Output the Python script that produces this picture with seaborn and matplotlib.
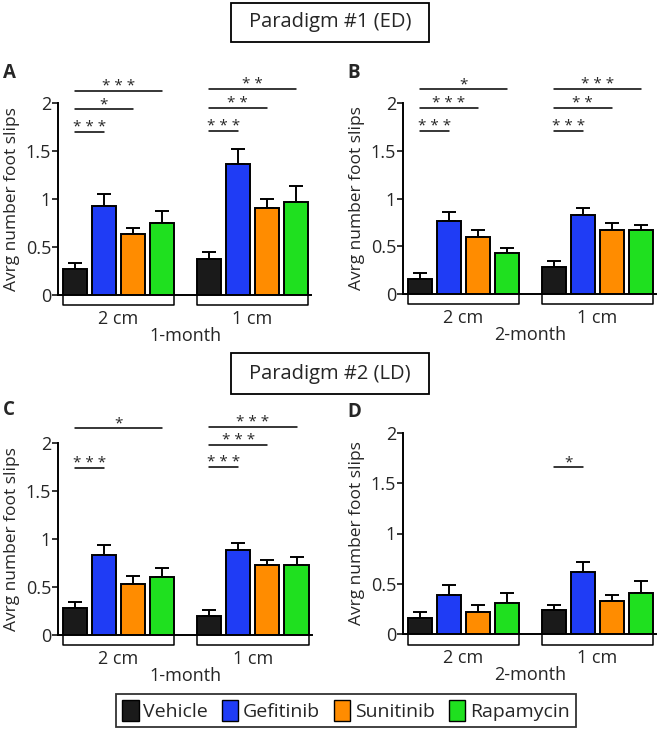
import numpy as np
import pandas as pd
import matplotlib
matplotlib.use("Agg")
import matplotlib.pyplot as plt
from matplotlib.patches import Patch, Rectangle
import seaborn as sns

# ---------------- data ----------------
groups = ["2 cm", "1 cm"]
treatments = ["Vehicle", "Gefitinib", "Sunitinib", "Rapamycin"]
colors = ["#1a1a1a", "#1f3cf5", "#ff8c00", "#1fe01f"]

A_mean_2cm = [0.27, 0.93, 0.635, 0.755]
A_sem_2cm = [0.06, 0.125, 0.065, 0.115]
A_mean_1cm = [0.38, 1.36, 0.905, 0.965]
A_sem_1cm = [0.07, 0.16, 0.10, 0.175]

B_mean_2cm = [0.157, 0.768, 0.60, 0.426]
B_sem_2cm = [0.063, 0.092, 0.067, 0.059]
B_mean_1cm = [0.28, 0.83, 0.67, 0.67]
B_sem_1cm = [0.065, 0.074, 0.07, 0.056]

C_mean_2cm = [0.28, 0.83, 0.53, 0.607]
C_sem_2cm = [0.067, 0.11, 0.083, 0.093]
C_mean_1cm = [0.198, 0.89, 0.724, 0.724]
C_sem_1cm = [0.062, 0.073, 0.056, 0.086]

D_mean_2cm = [0.156, 0.39, 0.22, 0.31]
D_sem_2cm = [0.064, 0.10, 0.065, 0.10]
D_mean_1cm = [0.235, 0.617, 0.33, 0.41]
D_sem_1cm = [0.05, 0.103, 0.06, 0.12]

# significance: (group index, compared treatment index, line height, stars)
A_sig = [(0, 1, 1.70, "* * *"), (0, 2, 1.94, "*"), (0, 3, 2.13, "* * *"),
         (1, 1, 1.71, "* * *"), (1, 2, 1.95, "* *"), (1, 3, 2.15, "* *")]
B_sig = [(0, 1, 1.71, "* * *"), (0, 2, 1.95, "* * *"), (0, 3, 2.15, "*"),
         (1, 1, 1.71, "* * *"), (1, 2, 1.95, "* *"), (1, 3, 2.15, "* * *")]
C_sig = [(0, 1, 1.74, "* * *"), (0, 3, 2.16, "*"),
         (1, 1, 1.75, "* * *"), (1, 2, 1.98, "* * *"), (1, 3, 2.17, "* * *")]
D_sig = [(1, 1, 1.66, "*")]

months = {"A": "1-month", "B": "2-month", "C": "1-month", "D": "2-month"}
yticks = [0, 0.5, 1, 1.5, 2]
ytick_labels = ["0", "0.5", "1", "1.5", "2"]

# ---------------- style ----------------
sns.set_style("ticks")
plt.rcParams["font.family"] = ["Open Sans", "DejaVu Sans"]

W, H = 658, 735
fig = plt.figure(figsize=(W / 100, H / 100), dpi=100)


def axes_px(left, right, top, bottom):
    return fig.add_axes([left / W, 1 - bottom / H, (right - left) / W, (bottom - top) / H])


def build_df(m2, s2, m1, s1):
    rows = []
    for g, means, sems in ((groups[0], m2, s2), (groups[1], m1, s1)):
        for t, m, s in zip(treatments, means, sems):
            rows.append({"distance": g, "treatment": t, "slips": m, "sem": s})
    return pd.DataFrame(rows)


def draw_panel(ax, letter, letter_xy, df, sig):
    sns.barplot(data=df, x="distance", y="slips", hue="treatment",
                order=groups, hue_order=treatments, palette=colors,
                width=0.866, gap=0.17, edgecolor="black", linewidth=1.4,
                errorbar=None, legend=False, ax=ax, saturation=1, zorder=3)
    bar_conts = list(ax.containers)
    centers = {}
    extents = {}
    for ti, cont in enumerate(bar_conts):
        for gi, bar in enumerate(cont.patches):
            x = bar.get_x() + bar.get_width() / 2
            h = bar.get_height()
            s = df[(df.distance == groups[gi]) & (df.treatment == treatments[ti])]["sem"].iloc[0]
            ax.errorbar(x, h, yerr=[[0], [s]], fmt="none", ecolor="black",
                        elinewidth=1.4, capsize=4.7, capthick=1.4, zorder=2)
            centers[(gi, ti)] = x
            lo, hi = extents.get(gi, (np.inf, -np.inf))
            extents[gi] = (min(lo, bar.get_x()), max(hi, bar.get_x() + bar.get_width()))

    ax.set_xlim(-0.45, 1.44)
    ax.set_ylim(0, 2)
    ax.set_yticks(yticks)
    ax.set_yticklabels(ytick_labels, fontsize=13)
    ax.set_xticks([0, 1])
    ax.set_xticklabels(groups, fontsize=13)
    ax.tick_params(axis="x", length=0, pad=11)
    ax.tick_params(axis="y", length=4, width=1.3, pad=1, direction="out")
    for sp in ("top", "right"):
        ax.spines[sp].set_visible(False)
    for sp in ("left", "bottom"):
        ax.spines[sp].set_linewidth(1.4)
        ax.spines[sp].set_color("black")
    ax.set_xlabel("")
    ax.set_ylabel("Avrg number foot slips", fontsize=12.5)
    pos = ax.get_position()
    lab_x = (-46 / W) / pos.width
    ax.yaxis.set_label_coords(lab_x, 0.5)
    ax.yaxis.label.set_va("center")

    # brackets under each group
    for gi, (lo, hi) in extents.items():
        ax.plot([lo, lo, hi, hi], [0, -0.105, -0.105, 0], color="black",
                lw=1.1, clip_on=False, zorder=1)

    # month label
    ax.annotate(months[letter], xy=(0.5, 0), xycoords=("data", "axes fraction"),
                xytext=(0, -41), textcoords="offset pixels", ha="center", va="center",
                fontsize=13)

    # significance lines
    for gi, ti, y, stars in sig:
        x0 = centers[(gi, 0)]
        x1 = centers[(gi, ti)]
        ax.plot([x0, x1], [y, y], color="black", lw=1.1, clip_on=False)
        ax.annotate(stars, xy=((x0 + x1) / 2, y), xycoords="data",
                    xytext=(0, 4), textcoords="offset pixels", ha="center",
                    va="center", fontsize=11, annotation_clip=False)

    # panel letter
    fig.text(letter_xy[0] / W, 1 - letter_xy[1] / H, letter, fontsize=13.5,
             fontweight="bold", ha="left", va="center")


axA = axes_px(58, 311, 103, 295)
axB = axes_px(403, 656, 103, 294)
axC = axes_px(58, 312, 443, 635)
axD = axes_px(403, 656, 433, 634)

draw_panel(axA, "A", (3, 73), build_df(A_mean_2cm, A_sem_2cm, A_mean_1cm, A_sem_1cm), A_sig)
draw_panel(axB, "B", (347, 73), build_df(B_mean_2cm, B_sem_2cm, B_mean_1cm, B_sem_1cm), B_sig)
draw_panel(axC, "C", (3, 410), build_df(C_mean_2cm, C_sem_2cm, C_mean_1cm, C_sem_1cm), C_sig)
draw_panel(axD, "D", (347, 412), build_df(D_mean_2cm, D_sem_2cm, D_mean_1cm, D_sem_1cm), D_sig)

# paradigm title boxes
for (x0, y0, x1, y1, txt) in ((231, 3, 429, 42, "Paradigm #1 (ED)"),
                               (231, 353, 429, 394, "Paradigm #2 (LD)")):
    fig.add_artist(Rectangle((x0 / W, 1 - y1 / H), (x1 - x0) / W, (y1 - y0) / H,
                             transform=fig.transFigure, fill=False, edgecolor="black", lw=1.3))
    fig.text((x0 + x1) / 2 / W, 1 - (y0 + y1) / 2 / H, txt, ha="center", va="center",
             fontsize=14.5)

# legend
handles = [Patch(facecolor=c, edgecolor="black", linewidth=1.0) for c in colors]
leg = fig.legend(handles, treatments, loc="center", bbox_to_anchor=(346 / W, 1 - 710.5 / H),
                 ncol=4, frameon=True, fancybox=False, edgecolor="black",
                 handlelength=0.85, handleheight=1.25, handletextpad=0.25,
                 columnspacing=0.7, borderpad=0.3, fontsize=14)
leg.get_frame().set_linewidth(1.3)

fig.savefig("out.png", dpi=100)
